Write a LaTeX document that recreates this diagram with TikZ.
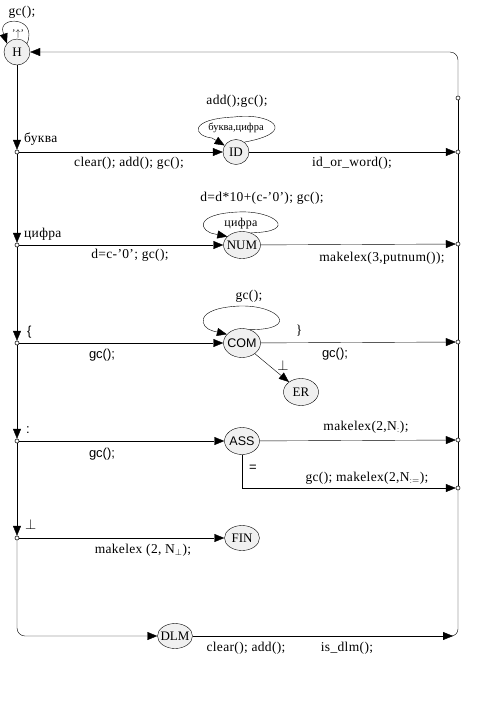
\documentclass[tikz,border=0pt]{standalone}
\usepackage{fontspec}
\setmainfont{Liberation Serif}
\setsansfont{Liberation Sans}
\newfontfamily\lblfont[LetterSpace=2.5]{Liberation Serif}
\usetikzlibrary{arrows.meta,shapes.geometric}
\begin{document}
\begin{tikzpicture}[x=1pt,y=-1pt,
  state/.style={draw, ellipse, fill=gray!12, inner sep=0pt},
  sname/.style={label={[inner sep=0pt, font=\fontsize{13}{15}\selectfont]center:#1}},
  ssname/.style={label={[inner sep=0pt, font=\sffamily\fontsize{12.5}{15}\selectfont]center:#1}},
  dot/.style={circle, draw, fill=white, inner sep=0pt, minimum size=4pt},
  arr/.style={-{Triangle[length=10pt,width=8pt]}},
  lbl/.style={inner sep=0pt, font=\lblfont\fontsize{13.5}{15}\selectfont},
  slbl/.style={inner sep=0pt, font=\sffamily\fontsize{13}{15}\selectfont},
  tlbl/.style={inner sep=0pt, font=\fontsize{10.5}{12}\selectfont}]
\useasboundingbox (0,0) rectangle (487,716);
% states
\node[state, circle, minimum size=26pt, sname=H] (H) at (17,52) {};
\node[state, minimum width=26pt, minimum height=25pt, sname=ID] (ID) at (236,152) {};
\node[state, minimum width=37pt, minimum height=27pt, sname=NUM] (NUM) at (242,245) {};
\node[state, minimum width=37pt, minimum height=29pt, ssname=COM] (COM) at (242,343) {};
\node[state, minimum width=35pt, minimum height=27pt, sname=ER] (ER) at (301,392) {};
\node[state, minimum width=35pt, minimum height=27pt, ssname=ASS] (ASS) at (242,441) {};
\node[state, minimum width=35pt, minimum height=25pt, sname=FIN] (FIN) at (242,538) {};
\node[state, minimum width=35pt, minimum height=25pt, sname=DLM] (DLM) at (175,636) {};
% junction points
\node[dot] (l1) at (17,152) {};
\node[dot] (l2) at (17,245) {};
\node[dot] (l3) at (17,343) {};
\node[dot] (l4) at (17,441) {};
\node[dot] (l5) at (17,538) {};
\node[dot] (r0) at (458,98) {};
\node[dot] (r1) at (458,152) {};
\node[dot] (r2) at (458,244) {};
\node[dot] (r3) at (458,342) {};
\node[dot] (r4) at (458,440) {};
\node[dot] (r5) at (458,488) {};
\coordinate (rb) at (453,636);
% left trunk
\draw[arr] (H) -- (l1);
\draw[arr] (l1) -- (l2);
\draw[arr] (l2) -- (l3);
\draw[arr] (l3) -- (l4);
\draw[arr] (l4) -- (l5);
\draw[arr, rounded corners=8] (l5) |- (DLM);
% branches
\draw[arr] (l1) -- (ID);
\draw[arr] (l2) -- (NUM);
\draw[arr] (l3) -- (COM);
\draw[arr] (l4) -- (ASS);
\draw[arr] (l5) -- (FIN);
\draw[arr] (ID) -- (r1);
\draw[arr] (NUM) -- (r2);
\draw[arr] (COM) -- (r3);
\draw[arr] (COM) -- (ER);
\draw[arr] (ASS) -- (r4);
\draw[arr] (ASS.south) -- (ASS.south |- r5) -- (r5);
\draw[arr] (DLM) -- (rb);
% right trunk
\draw[rounded corners=7] (rb) -| (r5);
\draw (r5) -- (r4);
\draw (r4) -- (r3);
\draw (r3) -- (r2);
\draw (r2) -- (r1);
\draw (r1) -- (r0);
\draw[arr, rounded corners=8] (r0) |- (H);
% self loops
\draw (H.40) .. controls (38,16) and (-2,16) .. (3,32);
\draw[arr] (3,32) -- (H.140);
\draw (ID.50) .. controls (300,132) and (270,112) .. (234,117) .. controls (188,119) and (193,136) .. (212,138);
\draw[arr] (212,138) -- (ID.150);
\draw (NUM.55) .. controls (300,232) and (275,210) .. (238,212) .. controls (192,214) and (200,232) .. (215,234);
\draw[arr] (215,234) -- (NUM.150);
\draw (COM.60) .. controls (300,330) and (280,305) .. (240,306) .. controls (192,308) and (200,328) .. (213,331);
\draw[arr] (213,331) -- (COM.150);
% redraw dots on top
\foreach \d in {l1,l2,l3,l4,l5,r0,r1,r2,r3,r4,r5} \node[dot] at (\d) {};
% labels
\node[lbl] (t0) at (22,12) {gc();};
\node[tlbl, font=\fontsize{10}{11}\selectfont] (t1) at (18,34) {'$\uparrow$'};
\node[lbl] (t2) at (237,101) {add();gc();};
\node[tlbl] (t3) at (236,128) {буква,цифра};
\node[lbl, anchor=west] (t4) at (24,139) {буква};
\node[lbl] (t5) at (129,163) {clear(); add(); gc();};
\node[lbl] (t6) at (352,163) {id\_or\_word();};
\node[lbl] (t7) at (262,198) {d=d*10+(c-’0’); gc();};
\node[lbl, font=\lblfont\fontsize{12}{13}\selectfont] (t8) at (241,224) {цифра};
\node[lbl, anchor=west] (t9) at (24,234) {цифра};
\node[lbl] (t10) at (130,255) {d=c-’0’; gc();};
\node[lbl] (t11) at (382,258) {makelex(3,putnum());};
\node[slbl, anchor=west] (t12) at (27,332) {\{};
\node[slbl] (t13) at (102,355) {gc();};
\node[lbl] (t14) at (249,296) {gc();};
\node[lbl] (t15) at (299,331) {\}};
\node[slbl] (t16) at (335,354) {gc();};
\node[lbl] (t17) at (283,365) {$\perp$};
\node[slbl, anchor=west] (t18) at (26,430) {:};
\node[slbl] (t19) at (102,454) {gc();};
\node[lbl] (t20) at (366,427) {makelex(2,N$_{:}$);};
\node[slbl] (t21) at (253,468) {=};
\node[lbl] (t22) at (367,478) {gc(); makelex(2,N$_{:=}$);};
\node[lbl, anchor=west] (t23) at (25,524) {$\perp$};
\node[lbl] (t24) at (143,550) {makelex (2, N$_{\perp}$);};
\node[lbl] (t25) at (246,648) {clear(); add();};
\node[lbl] (t26) at (347,648) {is\_dlm();};
\end{tikzpicture}
\end{document}
